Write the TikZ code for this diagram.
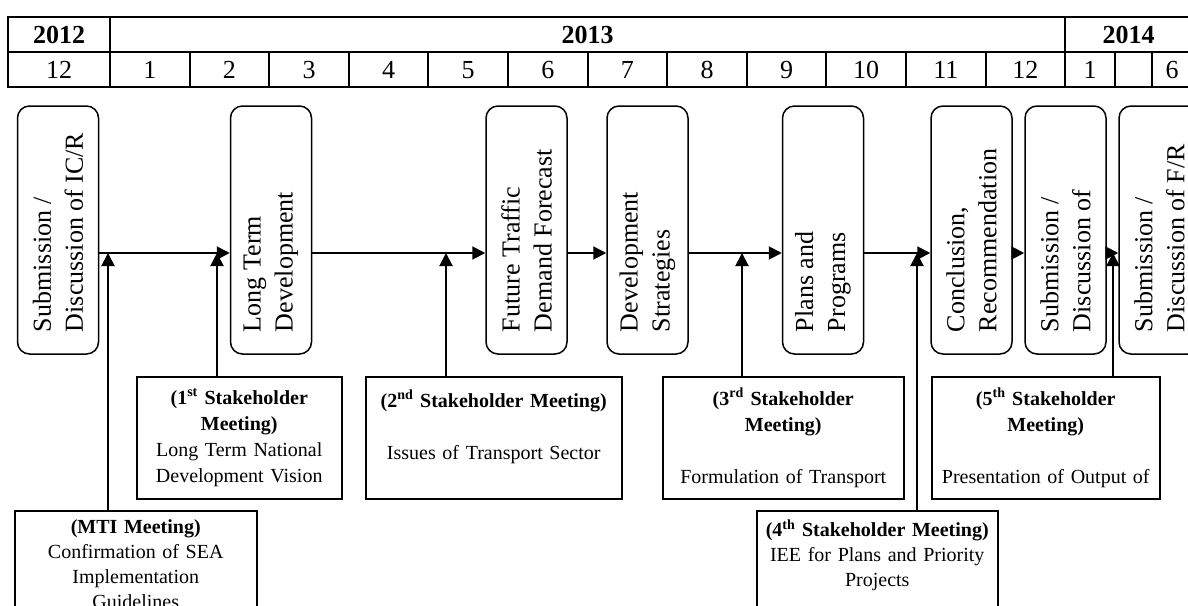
\documentclass[tikz,border=0pt]{standalone}
\usepackage{fontspec}
\setmainfont{Liberation Serif}
\usepackage{graphicx}
\usetikzlibrary{arrows.meta,calc}
\newcommand{\vlab}[1]{\rotatebox{90}{\parbox{204pt}{\raggedright #1}}}

\begin{document}
\begin{tikzpicture}[x=1pt,y=-1pt]
\tikzset{
  stage/.style={draw,rounded corners=12pt,line width=1.5pt,minimum width=81pt,minimum height=248pt,inner sep=0pt,font=\fontsize{26}{32}\selectfont},
  meet/.style={draw,line width=1.5pt,anchor=north west,align=center,inner xsep=3pt,inner ysep=9pt,minimum height=122pt,font=\fontsize{20}{26}\selectfont},
  low/.style={minimum height=0pt,font=\fontsize{20}{25}\selectfont},
  cell/.style={font=\fontsize{26}{30}\selectfont},
  tbl/.style={line width=2pt},
  arr/.style={-{Triangle[length=13pt,width=13pt]},line width=2pt}
}
\useasboundingbox (0,0) rectangle (1188,605);
\clip (0,0) rectangle (1188,605);
\foreach \xa/\xb/\yr [count=\i] in {8/110/2012,110/1065.2/2013,1065.2/1192/2014}{
  \draw[tbl] (\xa,17) rectangle (\xb,52);
  \node(y\i)[cell] at ({(\xa+\xb)/2},35){\textbf{\yr}};
}
\foreach \xa/\xb/\mon [count=\i] in {8/110/12,110/189.6/1,189.6/269.2/2,269.2/348.8/3,348.8/428.4/4,428.4/508/5,508/587.6/6,587.6/667.2/7,667.2/746.8/8,746.8/826.4/9,826.4/906/10,906/985.6/11,985.6/1065.2/12,1065.2/1115/1,1115/1152/{},1152/1192/6}{
  \draw[tbl] (\xa,52) rectangle (\xb,87);
  \node(m\i)[cell] at ({(\xa+\xb)/2},70){\mon};
}
\coordinate (lvl) at (0,253);
\coordinate (jm) at (108,253); \coordinate (j1) at (217,253); \coordinate (j2) at (446,253);
\coordinate (j3) at (742,253); \coordinate (j4) at (917,253); \coordinate (j5) at (1113,253);
\node(ic)[stage] at (58,230){\vlab{Submission /\\Discussion of IC/R}};
\node(ltd)[stage] at (271,230){\vlab{Long Term\\Development}};
\node(dem)[stage] at (526.5,230){\vlab{Future Traffic\\Demand Forecast}};
\node(str)[stage] at (647.5,230){\vlab{Development\\Strategies}};
\node(pp)[stage] at (823,230){\vlab{Plans and\\Programs}};
\node(rec)[stage] at (971.5,230){\vlab{Conclusion,\\Recommendation}};
\node(dfr)[stage] at (1065.5,230){\vlab{Submission /\\Discussion of}};
\node(fr)[stage] at (1159.5,230){\vlab{Submission /\\Discussion of F/R}};
\node(s1)[meet,text width=199pt] at (136,376){\textbf{(1\textsuperscript{st} Stakeholder}\\\textbf{Meeting)}\\Long Term National\\Development Vision};
\node(s2)[meet,text width=250pt] at (365,376){\textbf{(2\textsuperscript{nd} Stakeholder Meeting)}\\\mbox{}\\Issues of Transport Sector\\\mbox{}};
\node(s3)[meet,text width=235pt] at (662,376){\textbf{(3\textsuperscript{rd} Stakeholder}\\\textbf{Meeting)}\\\mbox{}\\Formulation of Transport};
\node(s5)[meet,text width=222pt] at (931,376){\textbf{(5\textsuperscript{th} Stakeholder}\\\textbf{Meeting)}\\\mbox{}\\Presentation of Output of};
\node(mti)[meet,low,text width=236pt] at (14,510){\textbf{(MTI Meeting)}\\Confirmation of SEA\\Implementation\\Guidelines};
\node(s4)[meet,low,text width=235pt] at (756,510){\textbf{(4\textsuperscript{th} Stakeholder Meeting)}\\IEE for Plans and Priority\\Projects\\\mbox{}};
\draw[arr](ic.east|-lvl)--(ltd.west|-lvl); \draw[arr](ltd.east|-lvl)--(dem.west|-lvl);
\draw[arr](dem.east|-lvl)--(str.west|-lvl); \draw[arr](str.east|-lvl)--(pp.west|-lvl);
\draw[arr](pp.east|-lvl)--(rec.west|-lvl); \draw[arr](rec.east|-lvl)--(dfr.west|-lvl);
\draw[arr](dfr.east|-lvl)--(fr.west|-lvl);
\draw[arr](mti.north-|jm)--(jm); \draw[arr](s1.north-|j1)--(j1); \draw[arr](s2.north-|j2)--(j2);
\draw[arr](s3.north-|j3)--(j3); \draw[arr](s4.north-|j4)--(j4); \draw[arr](s5.north-|j5)--(j5);
\end{tikzpicture}
\end{document}
